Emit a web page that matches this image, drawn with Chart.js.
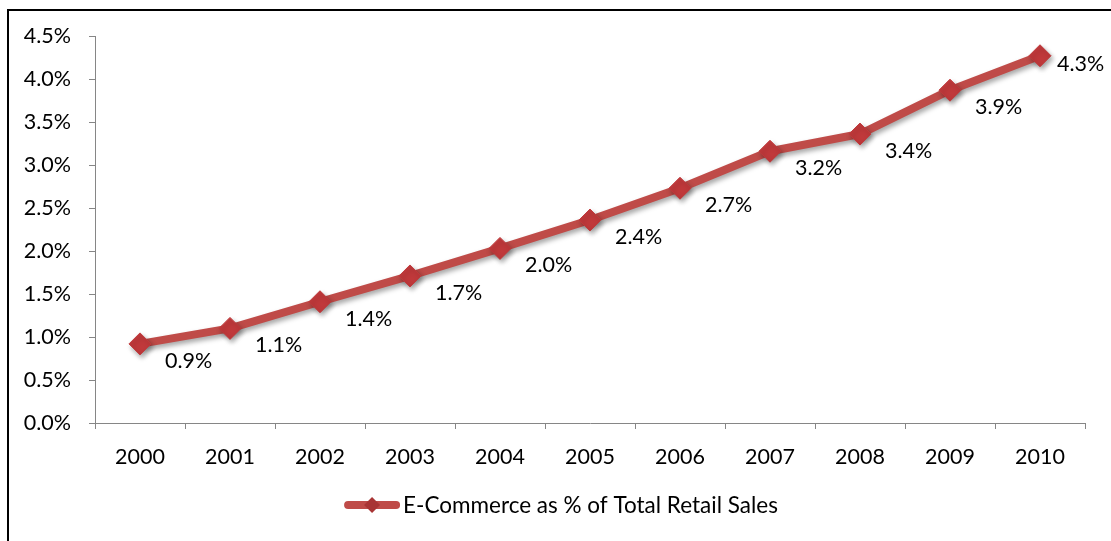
<!DOCTYPE html>
<html>
<head>
<meta charset="utf-8">
<script src="https://cdn.jsdelivr.net/npm/chart.js@4.4.0/dist/chart.umd.min.js"></script>
<style>
  html, body { margin: 0; padding: 0; background: #fff; overflow: hidden; }
  #frame { position: absolute; left: 7px; top: 9px; width: 1200px; height: 600px; border: 2px solid #000; }
  #wrap { position: absolute; left: 0; top: 0; width: 1111px; height: 541px; }
</style>
</head>
<body>
<div id="frame"></div>
<div id="wrap"><canvas id="myChart" width="1111" height="541"></canvas></div>
<script>
const years = ["2000", "2001", "2002", "2003", "2004", "2005", "2006", "2007", "2008", "2009", "2010"];
const ecommerceShare = [0.92, 1.1, 1.41, 1.71, 2.03, 2.36, 2.73, 3.16, 3.36, 3.87, 4.27];
const seriesName = "E-Commerce as % of Total Retail Sales";

const FONT = "Lato, 'Open Sans', sans-serif";
const FONT_SIZE = 21.5;
const lineColor = "#BF4B48";
const markerColor = "#C0393B";

// soft drop shadow under the line, like the Excel original
const shadowPlugin = {
  id: "shadow",
  beforeDatasetsDraw(chart) {
    const ctx = chart.ctx;
    ctx.save();
    ctx.shadowColor = "rgba(0,0,0,0.35)";
    ctx.shadowBlur = 5;
    ctx.shadowOffsetX = 2;
    ctx.shadowOffsetY = 3;
  },
  afterDatasetsDraw(chart) {
    chart.ctx.restore();
  },
};

// value labels below-right of each point
const valueLabels = {
  id: "valueLabels",
  afterDatasetsDraw(chart) {
    const ctx = chart.ctx;
    const meta = chart.getDatasetMeta(0);
    ctx.save();
    ctx.font = FONT_SIZE + "px " + FONT;
    ctx.fillStyle = "#000";
    ctx.textBaseline = "middle";
    ctx.textAlign = "left";
    meta.data.forEach((pt, i) => {
      const text = ecommerceShare[i].toFixed(1) + "%";
      const w = ctx.measureText(text).width;
      let x = pt.x + 25;
      let y = pt.y + 17;
      if (x + w > chart.width) {
        x = pt.x + 17;
        y = pt.y + 8;
      }
      ctx.fillText(text, x, y);
    });
    ctx.restore();
  },
};

// legend: thick line with a diamond, then the series name
const legendPlugin = {
  id: "customLegend",
  afterDraw(chart) {
    const ctx = chart.ctx;
    ctx.save();
    ctx.font = "22.5px " + FONT;
    const tw = ctx.measureText(seriesName).width;
    const lineW = 56;
    const total = lineW + 3 + tw;
    const x0 = 561 - total / 2;
    const y = 505;
    ctx.strokeStyle = lineColor;
    ctx.lineWidth = 8;
    ctx.lineCap = "round";
    ctx.beginPath();
    ctx.moveTo(x0 + 4, y);
    ctx.lineTo(x0 + lineW - 4, y);
    ctx.stroke();
    const cx = x0 + lineW / 2, r = 8;
    ctx.fillStyle = "#A83434";
    ctx.beginPath();
    ctx.moveTo(cx, y - r);
    ctx.lineTo(cx + r, y);
    ctx.lineTo(cx, y + r);
    ctx.lineTo(cx - r, y);
    ctx.closePath();
    ctx.fill();
    ctx.fillStyle = "#000";
    ctx.textBaseline = "middle";
    ctx.fillText(seriesName, x0 + lineW + 3, y + 1);
    ctx.restore();
  },
};

const ctx = document.getElementById("myChart").getContext("2d");
const chart = new Chart(ctx, {
  type: "line",
  data: {
    labels: years,
    datasets: [
      {
        label: seriesName,
        data: ecommerceShare,
        borderColor: lineColor,
        borderWidth: 8,
        borderJoinStyle: "round",
        pointStyle: "rectRot",
        pointRadius: 11,
        pointBackgroundColor: markerColor,
        pointBorderColor: markerColor,
        pointBorderWidth: 1,
        tension: 0,
        fill: false,
      },
    ],
  },
  options: {
    responsive: false,
    animation: false,
    layout: { padding: { top: 36, right: 26, left: 0, bottom: 0 } },
    plugins: {
      legend: { display: false },
      tooltip: { enabled: false },
    },
    scales: {
      x: {
        offset: true,
        grid: { display: true, offset: true, drawOnChartArea: false, drawTicks: true, tickLength: 6, color: "#868686" },
        border: { display: true, color: "#868686", width: 1 },
        ticks: { color: "#000", font: { family: FONT, size: FONT_SIZE }, padding: 15, maxRotation: 0 },
        afterFit(scale) { scale.height = 118; },
      },
      y: {
        min: 0,
        max: 4.5,
        grid: { display: true, drawOnChartArea: false, drawTicks: true, tickLength: 6, color: "#868686" },
        border: { display: true, color: "#868686", width: 1 },
        ticks: {
          stepSize: 0.5,
          color: "#000",
          font: { family: FONT, size: FONT_SIZE },
          padding: 18,
          callback: (v) => v.toFixed(1) + "%",
        },
        afterFit(scale) { scale.width = 95; },
      },
    },
  },
  plugins: [shadowPlugin, valueLabels, legendPlugin],
});
</script>
</body>
</html>
